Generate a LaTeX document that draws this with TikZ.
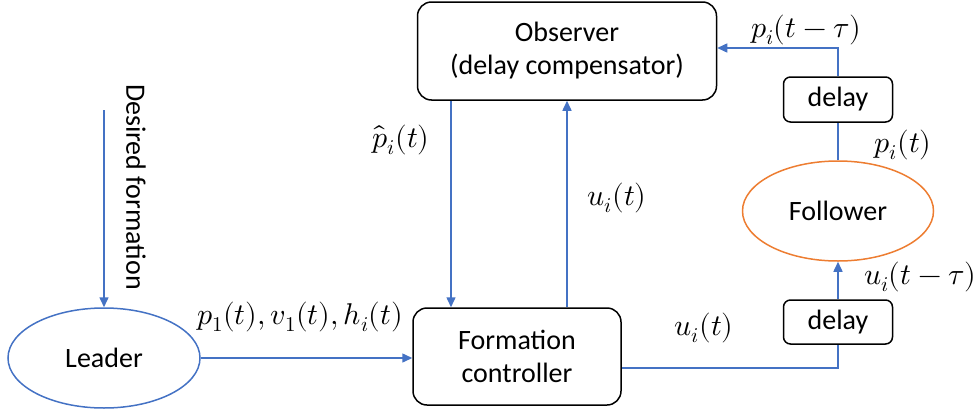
\documentclass[tikz,border=0pt]{standalone}
\usepackage{fontspec}
\usepackage{unicode-math}
\setmainfont{Carlito}
\setmathfont{Latin Modern Math}
\usetikzlibrary{arrows.meta,shapes.geometric}
\definecolor{lblue}{HTML}{4472C4}
\definecolor{lorange}{HTML}{ED7D31}
\begin{document}
\begin{tikzpicture}[x=1pt,y=-1pt,
  every node/.style={font=\fontsize{28}{33}\selectfont},
  box/.style={draw=black,line width=1.5pt,rounded corners=14pt,inner sep=0pt,align=center},
  dbox/.style={draw=black,line width=1.5pt,rounded corners=7pt,inner sep=0pt,minimum width=109pt,minimum height=45pt},
  ell/.style={ellipse,line width=1.5pt,inner sep=0pt,minimum width=192pt,minimum height=100pt},
  arr/.style={draw=lblue,line width=1.5pt,-{Triangle[length=10pt,width=9pt]}},
  ln/.style={draw=lblue,line width=1.5pt},
  lab/.style={inner sep=0pt,font=\fontsize{30}{35}\selectfont}]
\useasboundingbox (0,0) rectangle (978,410);
\node[box,minimum width=299pt,minimum height=98pt] (obs) at (567,51) {Observer\\(delay compensator)};
\node[box,minimum width=208pt,minimum height=97pt] (fc) at (517,356.5) {Formation\\controller};
\node[ell,draw=lblue] (leader) at (104,358) {Leader};
\node[ell,draw=lorange,minimum width=191pt] (fol) at (838,211) {Follower};
\node[dbox] (dt) at (838,99.5) {delay};
\node[dbox,minimum height=44pt] (db) at (838,322) {delay};
\coordinate (dftop) at (104,110);
\coordinate (xp) at (451,0);
\coordinate (yc) at (0,368);
\coordinate (yo) at (0,48);
% connectors
\draw[arr] (dftop) -- (leader.north);
\draw[arr] (leader.east) -- (fc.west |- leader.east);
\draw[arr] (obs.south -| xp) -- (fc.north -| xp);
\draw[arr] (fc.north -| obs.south) -- (obs.south);
\draw[ln] (fc.east |- yc) -- (db.south |- yc) -- (db.south);
\draw[arr] (db.north) -- (fol.south);
\draw[ln] (fol.north) -- (dt.south);
\draw[arr] (dt.north) -- (dt.north |- yo) -- (obs.east |- yo);
% labels
\node[inner sep=0pt,rotate=-90] (dflab) at (136,187) {Desired formation};
\node[lab] (l1) at (300,317) {$p_1(t), v_1(t), h_i(t)$};
\node[lab] (l2) at (401,140) {$\hat{p}_i(t)$};
\node[lab] (l3) at (617,198) {$u_i(t)$};
\node[lab] (l4) at (704,328) {$u_i(t)$};
\node[lab] (l5) at (920,277) {$u_i(t-\tau)$};
\node[lab] (l6) at (903,145) {$p_i(t)$};
\node[lab] (l7) at (806,30) {$p_i(t-\tau)$};
\end{tikzpicture}
\end{document}
